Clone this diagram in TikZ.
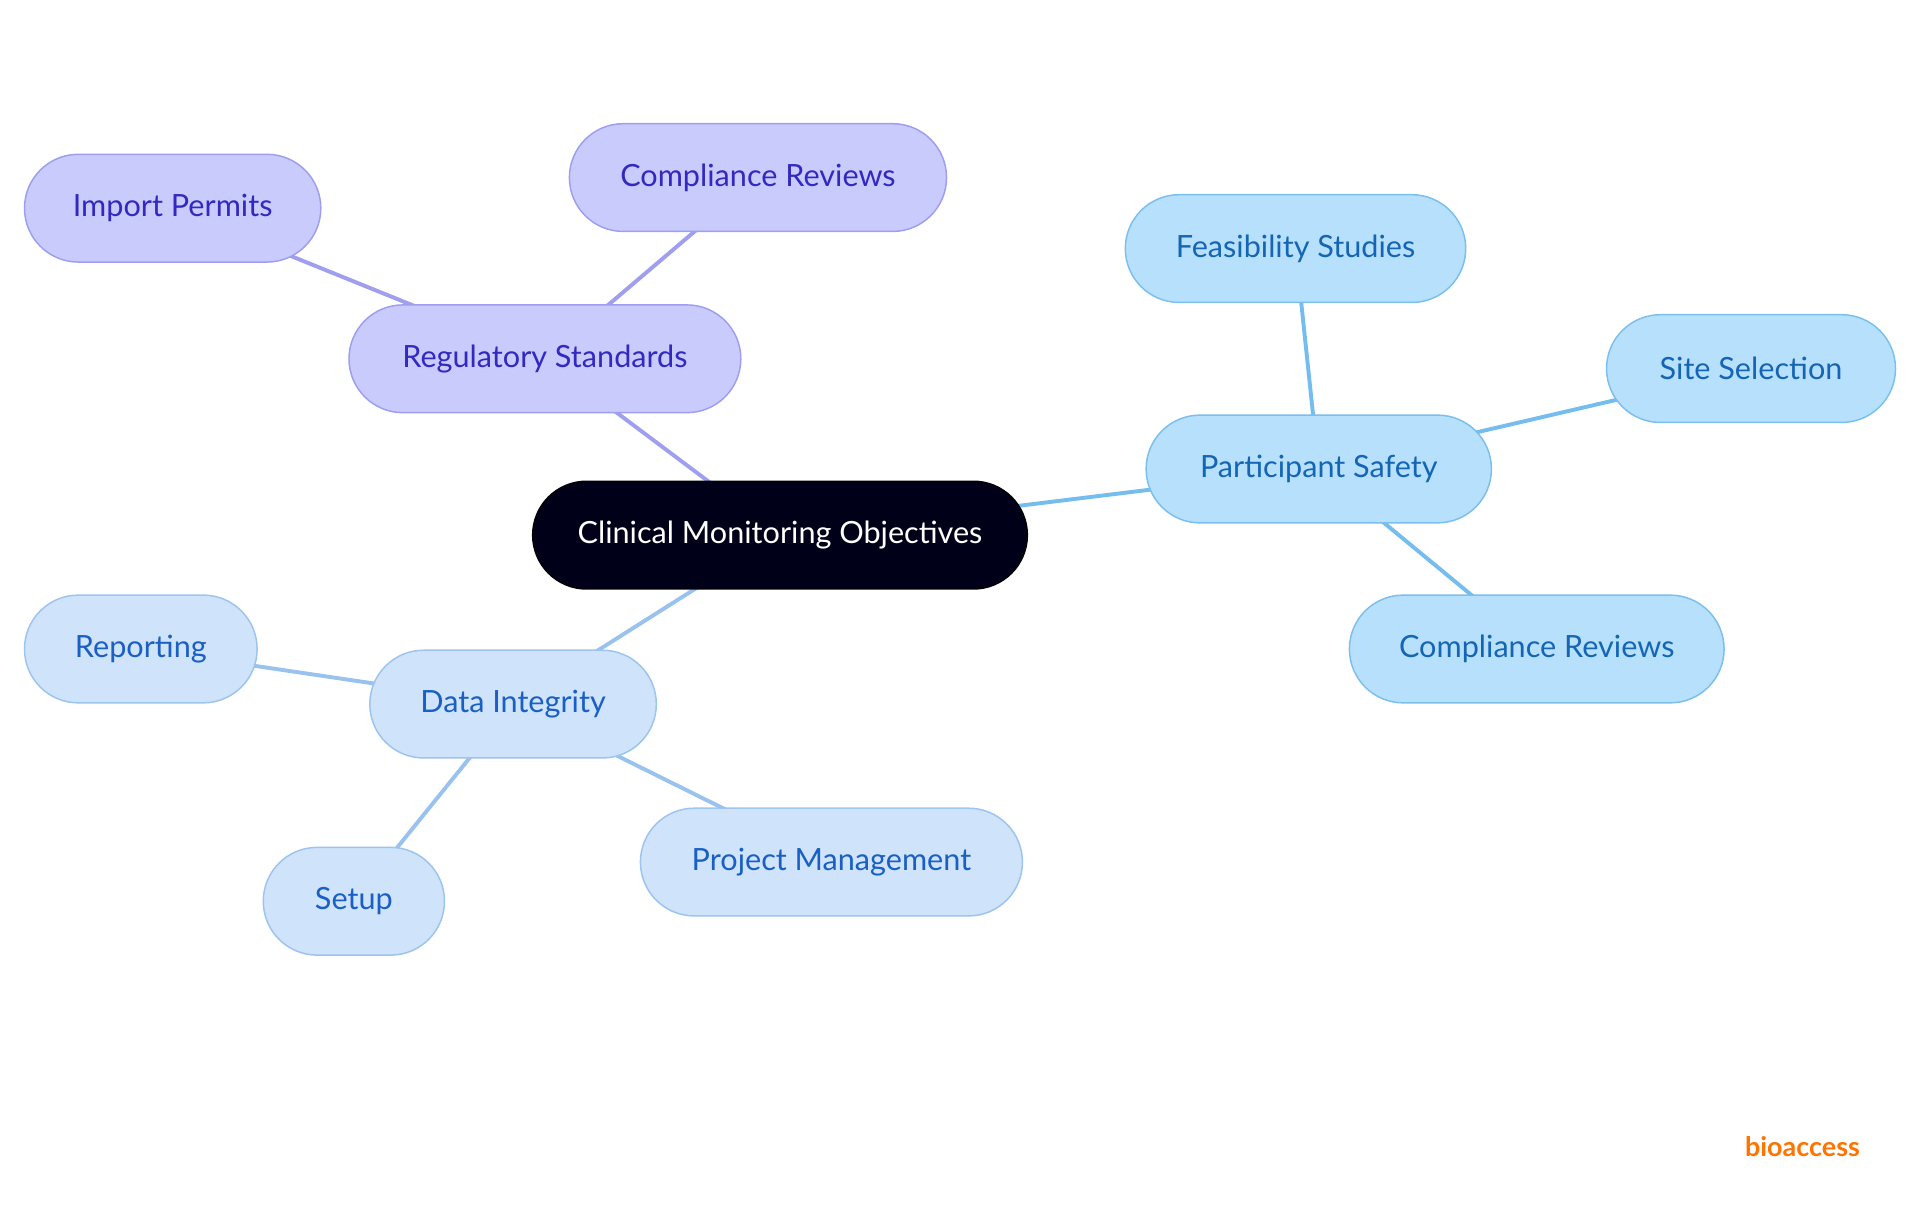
\documentclass[tikz,border=0pt]{standalone}
\usepackage{fontspec}
\setmainfont{Lato}
\usetikzlibrary{backgrounds}
\definecolor{pf}{HTML}{C9CBFD}\definecolor{pb}{HTML}{9D9EF0}\definecolor{pt}{HTML}{3328BF}
\definecolor{bf}{HTML}{B7E0FD}\definecolor{bb}{HTML}{7BBFEE}\definecolor{bt}{HTML}{1565B5}
\definecolor{df}{HTML}{CFE3FA}\definecolor{db}{HTML}{9CC4EE}\definecolor{dt}{HTML}{1A5FC4}
\definecolor{pe}{HTML}{A09EEE}\definecolor{be}{HTML}{74BDEE}\definecolor{de}{HTML}{9AC2EE}
\tikzset{x=0.5pt,y=-0.5pt,
 bx/.style={rounded corners=22pt,minimum height=44pt,inner sep=0pt,font=\fontsize{12.5}{14}\selectfont,line width=0.6pt},
 pur/.style={bx,fill=pf,draw=pb,text=pt},
 blu/.style={bx,fill=bf,draw=bb,text=bt},
 dat/.style={bx,fill=df,draw=db,text=dt},
 ed/.style={line width=1.6pt}}
\begin{document}
\begin{tikzpicture}
\useasboundingbox (0,0) rectangle (1568,992);
\node[bx,fill=black!90!blue,draw=black,text=white,minimum width=202pt] (c) at (637,437) {Clinical Monitoring Objectives};
\node[pur,minimum width=160pt] (rs) at (445,293) {Regulatory Standards};
\node[pur,minimum width=121pt] (ip) at (141,170) {Import Permits};
\node[pur,minimum width=154pt] (cr1) at (619,145) {Compliance Reviews};
\node[blu,minimum width=141pt] (ps) at (1077,383) {Participant Safety};
\node[blu,minimum width=139pt] (fs) at (1058,203) {Feasibility Studies};
\node[blu,minimum width=118pt] (ss) at (1430,301) {Site Selection};
\node[blu,minimum width=153pt] (cr2) at (1255,530) {Compliance Reviews};
\node[dat,minimum width=117pt] (di) at (419,575) {Data Integrity};
\node[dat,minimum width=95pt] (rp) at (115,530) {Reporting};
\node[dat,minimum width=74pt] (su) at (289,736) {Setup};
\node[dat,minimum width=156pt] (pm) at (679,704) {Project Management};
\node[text=orange!90!red,font=\bfseries\fontsize{11}{12}\selectfont] (lg) at (1472,936) {bioaccess};
\begin{scope}[on background layer]
\draw[ed,pe] (c.center)--(rs.center) (rs.center)--(ip.center) (rs.center)--(cr1.center);
\draw[ed,be] (c.center)--(ps.center) (ps.center)--(fs.center) (ps.center)--(ss.center) (ps.center)--(cr2.center);
\draw[ed,de] (c.center)--(di.center) (di.center)--(rp.center) (di.center)--(su.center) (di.center)--(pm.center);
\end{scope}
\end{tikzpicture}
\end{document}
